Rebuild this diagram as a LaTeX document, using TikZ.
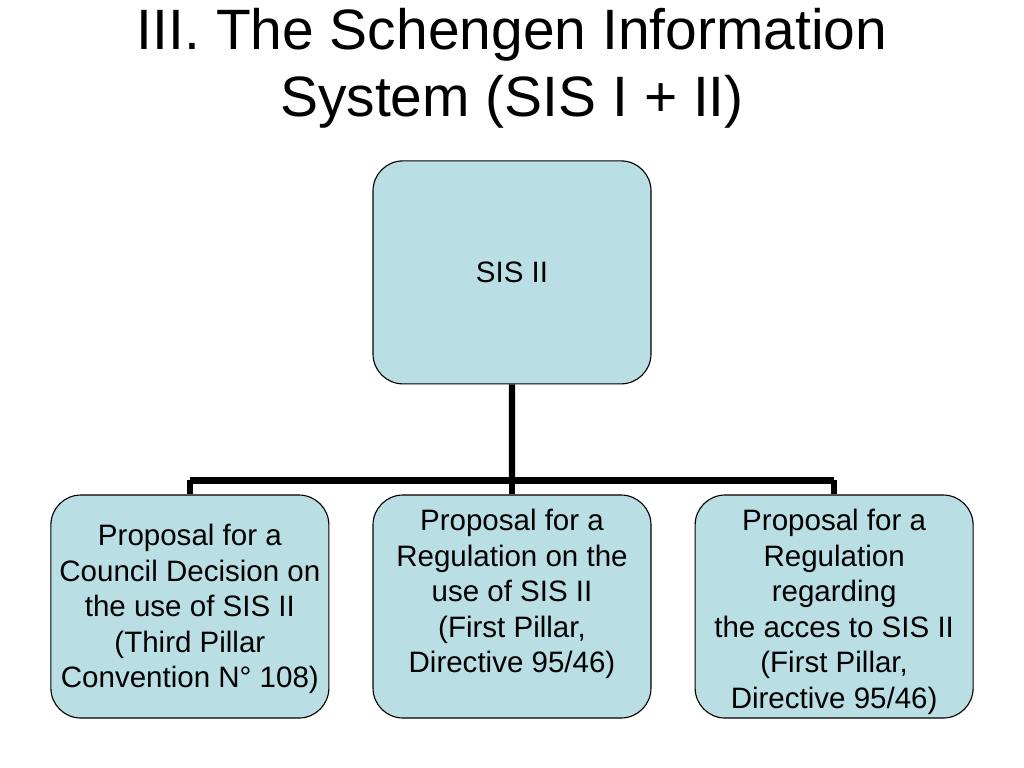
\documentclass[tikz,border=0pt]{standalone}
\usepackage{fontspec}
\setmainfont{Liberation Sans}
\usetikzlibrary{positioning, calc}
\definecolor{boxfill}{RGB}{185,222,227}
\tikzset{
    orgbox/.style={draw=black, line width=0.8pt, fill=boxfill, rounded corners=0.75cm,
        minimum width=6.95cm, minimum height=5.575cm, align=center,
        font=\fontsize{21pt}{25.25pt}\selectfont, inner sep=0pt},
    boxtext/.style={align=center, font=\fontsize{21pt}{25.25pt}\selectfont},
    branch/.style={line width=4.3pt},
    heading/.style={align=center, font=\fontsize{40.5pt}{47.7pt}\selectfont},
}
\begin{document}
\begin{tikzpicture}
    \useasboundingbox (0,0) rectangle (25.6,19.2);
    \node[heading] (title) at (12.8,17.5) {III. The Schengen Information\\System (SIS I + II)};
    \node[orgbox] (sis) at (12.8,12.39) {SIS II};
    \node[orgbox, below=2.75cm of sis] (mid) {};
    \node[orgbox, left=1.075cm of mid] (left) {};
    \node[orgbox, right=1.075cm of mid] (right) {};
    % texts of the lower boxes
    \node[boxtext] (lefttext) at ($(left.center)+(0,-0.07)$)
        {Proposal for a\\Council Decision on\\the use of SIS II\\(Third Pillar\\Convention N° 108)};
    \node[boxtext, below=0.25cm of mid.north, anchor=north] (midtext)
        {Proposal for a\\Regulation on the\\use of SIS II\\(First Pillar,\\Directive 95/46)};
    \node[boxtext, below=0.25cm of right.north, anchor=north] (righttext)
        {Proposal for a\\Regulation\\regarding\\the acces to SIS II\\(First Pillar,\\Directive 95/46)};
    % tree connectors
    \coordinate (bar) at ($(sis.south)!0.873!(mid.north)$);
    \draw[branch] (sis.south) -- (bar);
    \draw[branch] (left.north |- bar) -- (right.north |- bar);
    \foreach \n in {left,mid,right} \draw[branch] (\n.north |- bar) -- (\n.north);
\end{tikzpicture}
\end{document}
